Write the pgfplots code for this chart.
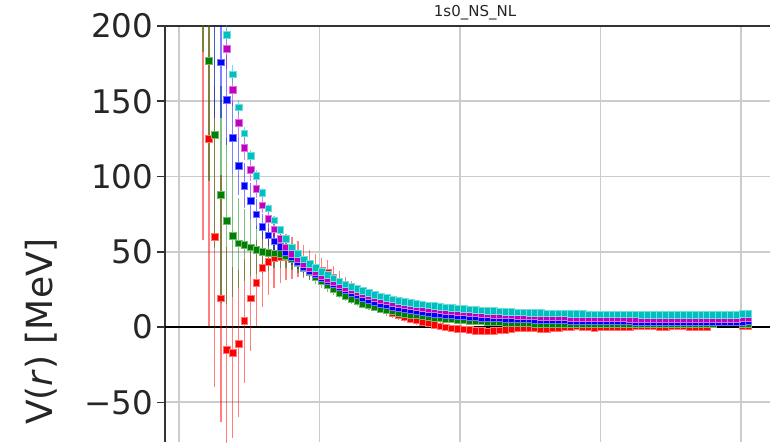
\documentclass[border=0pt]{standalone}
\usepackage{fontspec}
\setmainfont{DejaVu Sans}
\usepackage{pgfplots}
\usepackage{pgfplotstable}
\pgfplotsset{compat=1.18}

\definecolor{mplred}{HTML}{FF0000}
\definecolor{mplgreen}{HTML}{008000}
\definecolor{mplblue}{HTML}{0000FF}
\definecolor{mplmag}{HTML}{BF00BF}
\definecolor{mplcyan}{HTML}{00BFBF}
\definecolor{spine}{HTML}{333333}
\definecolor{txt}{HTML}{262626}
\definecolor{gridc}{HTML}{CCCCCC}

% potential V(r) for five runs: value and error per column pair
\pgfplotstableread{
x     r     re   g     ge   b     be   m     me   c     ce
0.171 215   157  265   82   nan   nan  nan   nan  nan   nan
0.213 125   124  176.7 80   nan   nan  nan   nan  nan   nan
0.255 60    100  127.6 75   215   76   nan   nan  nan   nan
0.298 19    82   88    72   176   37   222   20   228   10
0.340 -15   68   70.6  55   151   30   184.7 13   194   8
0.382 -17   57   60.8  41   125.8 24   157.7 11   168   6
0.424 -11   49   55.6  30   107   19   135.5 9    146   5
0.466 4     41   54.5  24   93.9  15   119   8    128.7 4.5
0.509 19    35   52.9  19   83.9  12   104.3 7    113.6 4
0.551 29.4  28.5 51.2  16   74.9  10   91.7  6    100.3 3.7
0.593 39.2  25.7 50    14   66.7  8.5  81    5.5  89.2  3.4
0.635 43.4  22.4 49.4  12   61    7.5  71.8  5    78.8  3.2
0.677 45.6  20   49    10   57    6.5  64.9  4.5  71    3.0
0.720 46.5  17   48.5  9    53.2  6    58.5  4.2  64.5  2.8
0.762 46.5  15   47    8    49.6  5.5  53    4    58.5  2.7
0.804 46    14   45    7    46.2  5    48.8  3.7  53    2.6
0.846 45    12   42.5  6.5  43.1  4.6  45.2  3.5  48.5  2.5
0.888 43.5  11   39.5  6    40.2  4.3  42    3.3  45    2.4
0.931 41.5  10   36.5  5.5  37.5  4    39.1  3.1  42    2.3
0.973 39.5  9    33.5  5    35    3.7  36.5  2.9  39.3  2.2
1.015 37.5  8.5  30.5  4.7  32.6  3.4  34.1  2.7  36.8  2.1
1.057 36.3  8    27.8  4.4  30.4  3.2  31.9  2.6  34.5  2.0
1.099 33    7.5  25.2  4.1  28.3  3.0  29.9  2.5  32.3  2.0
1.142 30    7    22.8  3.8  26.3  2.8  28    2.4  30.3  1.9
1.184 27    6.5  20.7  3.5  24.4  2.6  26.2  2.3  28.5  1.9
1.226 24.5  6    18.8  3.3  22.6  2.5  24.6  2.2  26.8  1.8
1.268 22    5.5  17.1  3.1  21    2.4  23.1  2.1  25.3  1.8
1.310 19.5  5    15.6  2.9  19.5  2.3  21.7  2.0  23.9  1.7
1.353 17    4.7  14.3  2.7  18.1  2.2  20.4  1.9  22.6  1.7
1.395 15    4.4  13.1  2.5  16.8  2.1  19.2  1.8  21.4  1.6
1.437 13    4    12.1  2.4  15.6  2.0  18.1  1.7  20.3  1.6
1.479 11    3.8  11.2  2.3  14.5  1.9  17.1  1.7  19.3  1.5
1.521 9.5   3.6  10.4  2.2  13.5  1.8  16.2  1.6  18.4  1.5
1.564 8     3.4  9.6   2.1  12.6  1.7  15.3  1.6  17.6  1.5
1.606 6.6   3.2  8.9   2.0  11.8  1.6  14.6  1.5  16.9  1.4
1.648 5.5   3    8.3   1.9  11.1  1.5  13.9  1.5  16.2  1.4
1.690 4.5   2.9  7.7   1.8  10.4  1.5  13.3  1.4  15.6  1.4
1.732 3.5   2.8  7.2   1.7  9.8   1.4  12.7  1.4  15.0  1.3
1.775 2.5   2.7  6.7   1.6  9.3   1.4  12.2  1.3  14.5  1.3
1.817 1.5   2.6  6.3   1.5  8.8   1.3  11.7  1.3  14.0  1.3
1.859 0.5   2.5  5.9   1.5  8.4   1.3  11.2  1.3  13.6  1.2
1.901 -0.3  2.4  5.5   1.4  8.0   1.2  10.8  1.2  13.2  1.2
1.943 -0.8  2.3  5.2   1.4  7.7   1.2  10.4  1.2  12.8  1.2
1.986 -1.1  2.2  4.9   1.3  7.4   1.2  10.0  1.2  12.4  1.2
2.028 -1.5  2.1  4.6   1.3  7.1   1.1  9.7   1.1  12.1  1.1
2.070 -2    2    4.3   1.2  6.8   1.1  9.4   1.1  11.8  1.1
2.112 -2.4  2    4.0   1.2  6.6   1.1  9.1   1.1  11.5  1.1
2.154 -2.7  1.9  3.7   1.2  6.3   1.0  8.8   1.1  11.2  1.1
2.197 -2.8  1.9  3.5   1.1  6.1   1.0  8.5   1.0  10.9  1.0
2.239 -2.6  1.8  3.3   1.1  5.9   1.0  8.3   1.0  10.7  1.0
2.281 -2.2  1.8  3.1   1.1  5.7   1.0  8.1   1.0  10.5  1.0
2.323 -1.7  1.7  2.9   1.0  5.5   0.9  7.9   1.0  10.3  1.0
2.365 -1.2  1.7  2.8   1.0  5.4   0.9  7.7   1.0  10.1  1.0
2.408 -0.8  1.6  2.6   1.0  5.2   0.9  7.5   1.0  9.9   1.0
2.450 -0.6  1.6  2.5   1.0  5.1   0.9  7.3   0.9  9.7   0.9
2.492 -0.5  1.5  2.4   1.0  5.0   0.9  7.1   0.9  9.6   0.9
2.534 -0.7  1.5  2.3   1.0  4.9   0.9  7.0   0.9  9.4   0.9
2.576 -1    1.5  2.2   1.0  4.8   0.8  6.8   0.9  9.3   0.9
2.619 -1.2  1.5  2.1   0.9  4.7   0.8  6.7   0.9  9.2   0.9
2.661 -0.8  1.4  1.9   0.9  4.6   0.8  6.6   0.9  9.1   0.9
2.703 -0.4  1.4  1.8   0.9  4.5   0.8  6.5   0.9  9.0   0.9
2.745 0     1.4  2.0   0.9  4.4   0.8  6.4   0.9  9.0   0.9
2.787 0.3   1.4  2.2   0.9  4.3   0.8  6.3   0.8  8.9   0.8
2.830 0.4   1.3  2.1   0.9  4.2   0.8  6.2   0.8  8.9   0.8
2.872 0.2   1.3  1.9   0.9  4.2   0.8  6.1   0.8  8.8   0.8
2.914 -0.2  1.3  1.8   0.9  4.1   0.8  6.0   0.8  8.5   0.8
2.956 -0.5  1.3  2.0   0.9  4.0   0.8  5.9   0.8  8.5   0.8
2.998 -0.3  1.3  2.1   0.9  4.0   0.8  5.9   0.8  8.5   0.8
3.041 0.1   1.2  2.2   0.9  3.9   0.8  5.8   0.8  8.5   0.8
3.083 0.2   1.2  2.0   0.9  3.8   0.8  5.8   0.8  8.5   0.8
3.125 0     1.2  1.9   0.9  3.8   0.8  5.7   0.8  8.5   0.8
3.167 -0.3  1.2  2.1   0.9  3.7   0.8  5.7   0.8  8.5   0.8
3.209 -0.2  1.2  2.2   0.9  3.7   0.8  5.6   0.8  8.5   0.8
3.252 0.5   1.2  2.0   0.9  3.6   0.8  5.6   0.8  8.5   0.8
3.294 0.8   1.2  1.9   0.9  3.6   0.8  5.5   0.8  8.0   0.8
3.336 0.6   1.1  2.0   0.9  3.5   0.8  5.5   0.8  8.0   0.8
3.378 0.4   1.1  2.1   0.9  3.5   0.8  5.5   0.8  8.0   0.8
3.420 0.2   1.1  2.0   0.9  3.5   0.8  5.4   0.8  8.0   0.8
3.463 0.3   1.1  1.9   0.9  3.5   0.8  5.4   0.8  8.0   0.8
3.505 0.5   1.1  2.0   0.9  3.5   0.8  5.4   0.8  8.0   0.8
3.547 0.6   1.1  2.1   0.9  3.4   0.8  5.4   0.8  8.0   0.8
3.589 0.4   1.1  2.0   0.9  3.4   0.8  5.4   0.8  8.0   0.8
3.631 0.2   1.1  1.9   0.9  3.4   0.8  5.3   0.8  8.0   0.8
3.674 0.1   1.1  2.0   0.9  3.4   0.8  5.3   0.8  8.0   0.8
3.716 0.2   1.0  2.1   0.9  3.4   0.8  5.3   0.8  8.0   0.8
3.758 0.3   1.0  2.0   0.9  3.4   0.8  5.3   0.8  8.0   0.8
3.800 nan   nan  1.9   0.9  3.4   0.8  5.3   0.8  8.0   0.8
3.842 nan   nan  nan   nan  3.4   0.8  5.3   0.8  8.0   0.8
3.885 nan   nan  nan   nan  3.4   0.8  5.3   0.8  8.0   0.8
3.927 nan   nan  nan   nan  3.4   0.8  5.3   0.8  8.0   0.8
3.969 nan   nan  nan   nan  3.4   0.8  5.3   0.8  8.0   0.8
4.011 0.6   1.0  2.2   0.9  3.6   0.8  5.7   0.8  8.8   0.8
4.053 0.8   1.0  2.3   0.9  3.8   0.8  5.9   0.8  8.9   0.8
}\potdata

\pgfplotsset{
  run/.style={only marks, mark=square*, mark size=3.3pt,
    mark options={solid, fill=#1, draw=#1!55!white, line width=0.6pt},
    error bars/.cd, y dir=both, y explicit, error mark=none,
    error bar style={#1, opacity=0.5, line width=1.3pt}},
}

\begin{document}
\begin{tikzpicture}
\useasboundingbox (0,0) rectangle (770pt,442pt);
\begin{axis}[
  at={(165pt,0pt)}, anchor=south west,
  scale only axis, width=605pt, height=416pt,
  xmin=-0.0996, xmax=4.2064, ymin=-76.4, ymax=200,
  axis x line*=top, axis y line*=left,
  axis line style={spine, line width=1.8pt},
  xtick={0,1,2,3,4}, xticklabels={},
  xtick style={draw=none},
  ytick={-50,0,50,100,150,200},
  yticklabels={−50,0,50,100,150,200},
  tick align=outside, major tick length=8pt,
  ytick style={spine, line width=1.5pt},
  yticklabel style={font=\fontsize{32.5}{39}\selectfont, text=txt, inner sep=0pt, xshift=-3.5pt},
  grid=major, major grid style={gridc, line width=1.6pt},
  title={1s0\_NS\_NL},
  title style={at={(axis description cs:0.5124,1)}, anchor=base, yshift=3.3pt,
    font=\fontsize{15}{18}\selectfont, text=txt, inner sep=0pt},
  ylabel={V(\textit{r}) [MeV]},
  ylabel style={at={(axis description cs:-0.2041,0.2656)}, anchor=center,
    font=\fontsize{36}{43}\selectfont, text=txt, inner sep=0pt},
]
\addplot[black, line width=2pt, forget plot] coordinates {(-0.0996,0) (4.2064,0)};
\addplot[run=mplred]   table[x=x, y=r, y error=re] {\potdata};
\addplot[run=mplgreen] table[x=x, y=g, y error=ge] {\potdata};
\addplot[run=mplblue]  table[x=x, y=b, y error=be] {\potdata};
\addplot[run=mplmag]   table[x=x, y=m, y error=me] {\potdata};
\addplot[run=mplcyan]  table[x=x, y=c, y error=ce] {\potdata};
\end{axis}
\end{tikzpicture}
\end{document}
